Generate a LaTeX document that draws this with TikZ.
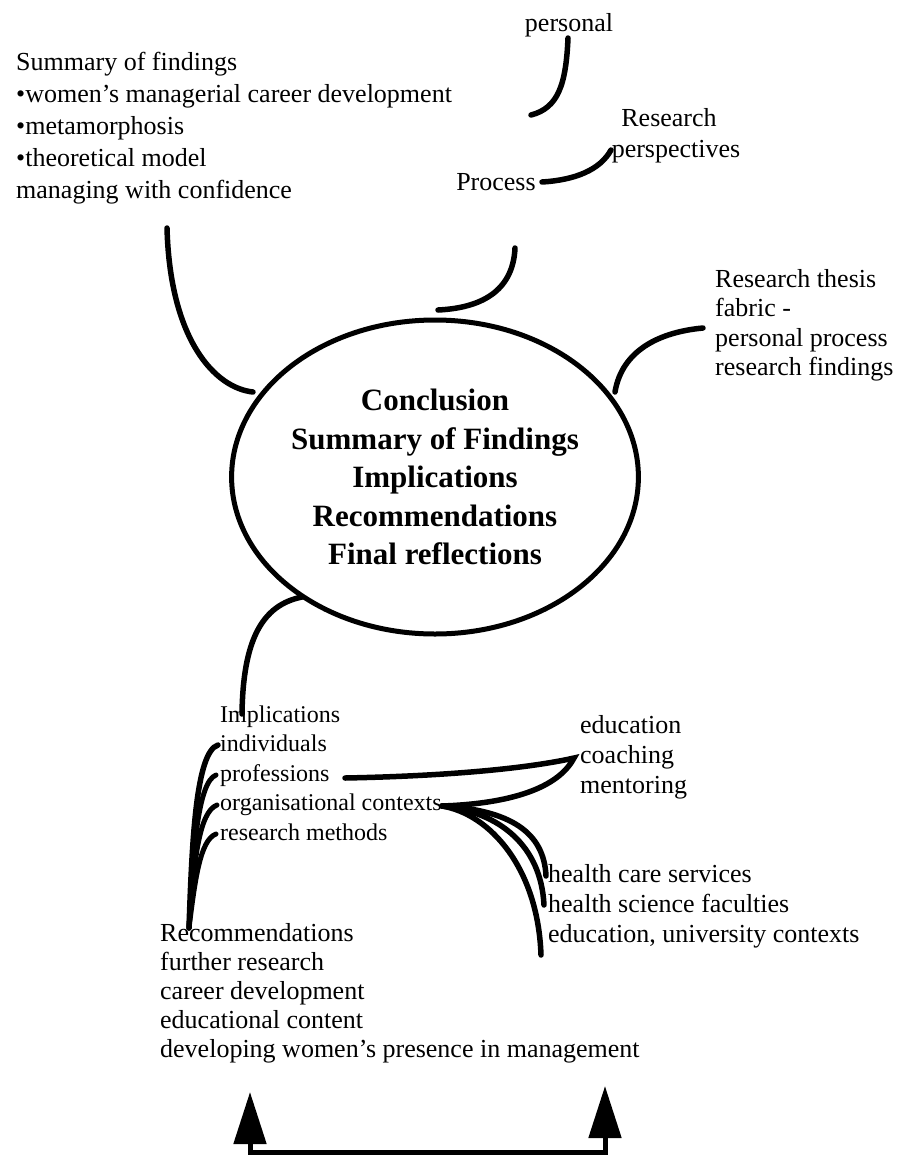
\documentclass[tikz,border=0pt]{standalone}
\usepackage{fontspec}
\setmainfont{Liberation Serif}
\usetikzlibrary{arrows.meta,shapes.geometric}
\begin{document}
\begin{tikzpicture}[x=1pt,y=-1pt,
  txt/.style={inner sep=0pt, anchor=base west, font=\fontsize{26}{31}\selectfont},
  ctxt/.style={txt, anchor=base},
  smalltxt/.style={inner sep=0pt, anchor=base west, font=\fontsize{24}{29}\selectfont},
  hub/.style={draw, ellipse, line width=5pt, inner sep=0pt, align=center,
    minimum width=404pt, minimum height=314pt,
    font=\fontsize{31}{38.5}\selectfont\bfseries},
  link/.style={line width=5.5pt, line cap=round},
  twig/.style={line width=5pt, line cap=round},
  bigarrow/.style={line width=5pt, {Triangle[width=32pt,length=52pt]}-{Triangle[width=32pt,length=52pt]}}]

\fill[white] (0,0) rectangle (903,1160);
\path[use as bounding box] (0,0) rectangle (903,1160);

% central topic
\node[hub] (hub) at (435,477)
  {Conclusion\\Summary of Findings\\Implications\\Recommendations\\Final reflections};

% upper branches
\node[ctxt] (personal) at (569,31) {personal};
\foreach \t [count=\i] in {Summary of findings,
    \textbullet women’s managerial career development,
    \textbullet metamorphosis,
    \textbullet theoretical model,
    managing with confidence}
  \node[txt] (sum\i) at (16,{70+32*(\i-1)}) {\t};
\node[ctxt] (process) at (496,190) {Process};
\node[ctxt] (persp1) at (669,126) {Research};
\node[ctxt] (persp2) at (676,157) {perspectives};
\foreach \t [count=\i] in {Research thesis, fabric -, personal process, research findings}
  \node[txt] (fab\i) at (715,{287+29.5*(\i-1)}) {\t};

% lower branches
\foreach \t [count=\i] in {Implications, individuals, professions,
    organisational contexts, research methods}
  \node[smalltxt] (imp\i) at (220,{722+29.5*(\i-1)}) {\t};
\foreach \t [count=\i] in {education, coaching, mentoring}
  \node[txt] (edu\i) at (580,{733+30*(\i-1)}) {\t};
\foreach \t [count=\i] in {health care services, health science faculties,
    {education, university contexts}}
  \node[txt] (hc\i) at (548,{882+30*(\i-1)}) {\t};
\foreach \t [count=\i] in {Recommendations, further research, career development,
    educational content, developing women’s presence in management}
  \node[txt] (rec\i) at (160,{941+29*(\i-1)}) {\t};

% connector end points
\coordinate (pA) at (568,38);   \coordinate (pB) at (531,115);
\coordinate (prA) at (542,182); \coordinate (prB) at (611,150);
\coordinate (tA) at (515,248);  \coordinate (tB) at (438,310);
\coordinate (sA) at (167,228);  \coordinate (sB) at (253,392);
\coordinate (fA) at (615,392);  \coordinate (fB) at (703,328);
\coordinate (bA) at (302,597);  \coordinate (bB) at (242,714);
\coordinate (root) at (189,928);
\coordinate (i2) at (218,745);  \coordinate (i3) at (216,775);
\coordinate (i4) at (217,805);  \coordinate (i5) at (216,834);
\coordinate (prof) at (345,778); \coordinate (coach) at (574,758);
\coordinate (org) at (442,806);
\coordinate (h1) at (546,876);  \coordinate (h2) at (544,905);
\coordinate (h3) at (541,955);
\coordinate (ltip) at (250,1092); \coordinate (lcorner) at (250,1152);
\coordinate (rcorner) at (605,1152); \coordinate (rtip) at (605,1086);

% upper connectors
\draw[link] (pA) .. controls (566,85) and (558,108) .. (pB);
\draw[link] (prA) .. controls (575,180) and (600,170) .. (prB);
\draw[link] (tA) .. controls (513,292) and (480,308) .. (tB);
\draw[link] (sA) .. controls (170,340) and (215,388) .. (sB);
\draw[link] (fA) .. controls (622,350) and (660,332) .. (fB);
\draw[link] (bA) .. controls (262,605) and (243,640) .. (bB);

% implications fan, merging into one trunk above the recommendations
\draw[link] (root) .. controls (192,840) and (196,752) .. (i2);
\draw[twig] (root) .. controls (193,850) and (198,782) .. (i3);
\draw[twig] (root) .. controls (194,860) and (199,812) .. (i4);
\draw[twig] (root) .. controls (195,880) and (200,840) .. (i5);

% professions / organisational contexts loop and health links
\draw[link] (prof) .. controls (450,776) and (530,768) .. (coach)
  .. controls (556,792) and (500,804) .. (org);
\draw[link] (org) .. controls (510,810) and (544,832) .. (h1);
\draw[link] (org) .. controls (500,812) and (541,846) .. (h2);
\draw[link] (org) .. controls (490,814) and (538,868) .. (h3);

% feedback arrows under the recommendations
\draw[bigarrow] (ltip) -- (lcorner) -- (rcorner) -- (rtip);
\end{tikzpicture}
\end{document}
